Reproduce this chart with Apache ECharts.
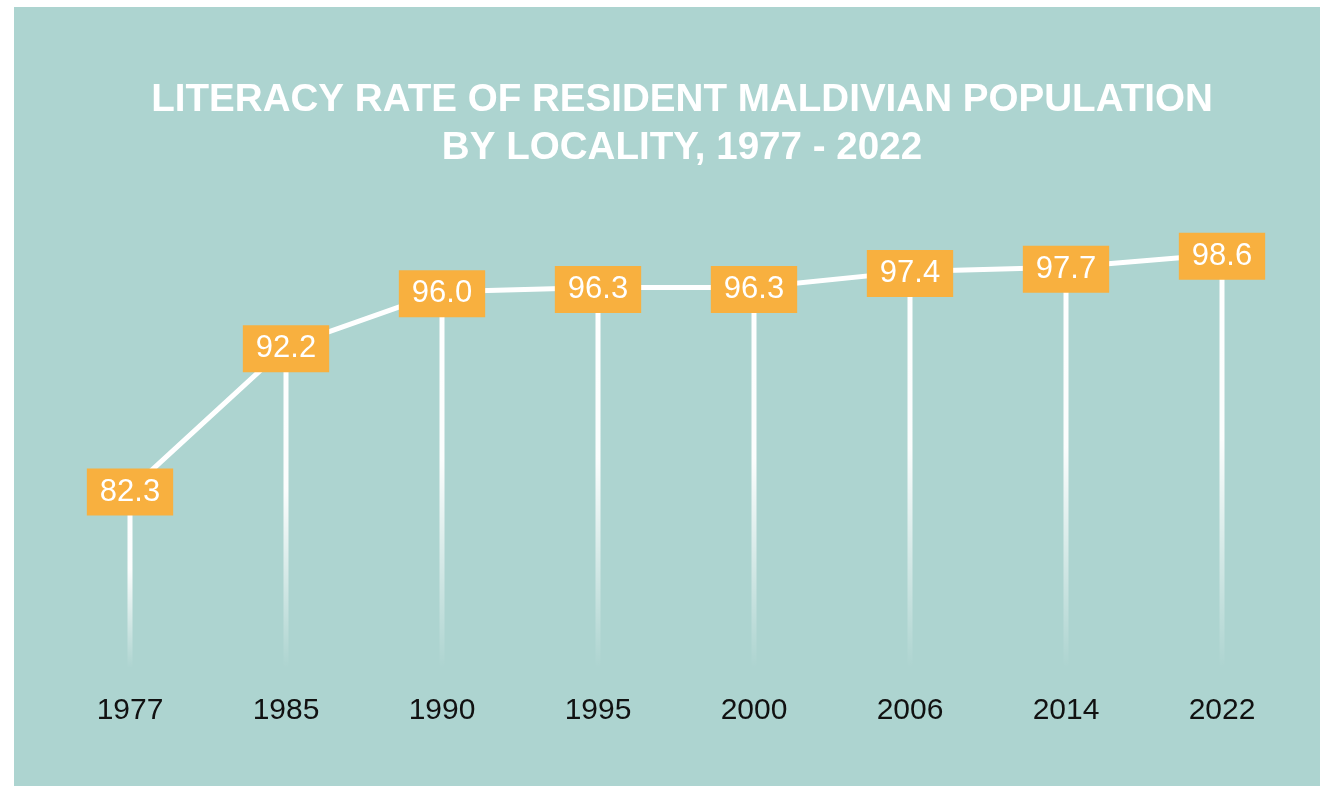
<!DOCTYPE html>
<html>
<head>
<meta charset="utf-8">
<script src="https://cdn.jsdelivr.net/npm/echarts@6/dist/echarts.min.js"></script>
<style>
html,body{margin:0;padding:0;background:#ffffff;width:1320px;height:786px;overflow:hidden;}
#chart{position:absolute;left:14px;top:7px;width:1306px;height:779px;}
</style>
</head>
<body>
<div id="chart"></div>
<script>
const titleLines = ['LITERACY RATE OF RESIDENT MALDIVIAN POPULATION', 'BY LOCALITY, 1977 - 2022'];
const years = ['1977', '1985', '1990', '1995', '2000', '2006', '2014', '2022'];
const literacy = [82.3, 92.2, 96.0, 96.3, 96.3, 97.4, 97.7, 98.6];

const chart = echarts.init(document.getElementById('chart'));
chart.setOption({
  backgroundColor: '#add4d0',
  animation: false,
  title: {
    text: titleLines.join('\n'),
    left: 663,
    top: 64,
    textAlign: 'center',
    textStyle: {
      color: '#ffffff',
      fontSize: 38.6,
      fontWeight: 'bold',
      fontFamily: 'Liberation Sans, Arial, sans-serif',
      lineHeight: 48
    }
  },
  grid: { left: 38, right: 20, top: 227, bottom: 118 },
  xAxis: {
    type: 'category',
    data: years,
    boundaryGap: true,
    axisLine: { show: false },
    axisTick: { show: false },
    axisLabel: {
      color: '#111111',
      fontSize: 30,
      fontFamily: 'Liberation Sans, Arial, sans-serif',
      margin: 28
    }
  },
  yAxis: {
    type: 'value',
    min: 70,
    max: 100,
    show: false,
    splitLine: { show: false }
  },
  series: [
    {
      type: 'bar',
      data: literacy,
      barWidth: 5,
      z: 1,
      itemStyle: {
        color: {
          type: 'linear', x: 0, y: 0, x2: 0, y2: 1,
          colorStops: [
            { offset: 0, color: 'rgba(255,255,255,1)' },
            { offset: 0.45, color: 'rgba(255,255,255,0.95)' },
            { offset: 1, color: 'rgba(255,255,255,0)' }
          ]
        }
      }
    },
    {
      type: 'line',
      data: literacy,
      z: 3,
      symbol: 'circle',
      symbolSize: 1,
      showSymbol: true,
      itemStyle: { color: '#ffffff' },
      lineStyle: { color: '#ffffff', width: 5 },
      label: {
        show: true,
        position: 'inside',
        offset: [0, 2],
        formatter: p => p.value.toFixed(1),
        backgroundColor: '#f8b03f',
        color: '#ffffff',
        fontSize: 31,
        fontFamily: 'Liberation Sans, Arial, sans-serif',
        padding: [9, 13, 7, 13]
      }
    }
  ]
});
</script>
</body>
</html>
